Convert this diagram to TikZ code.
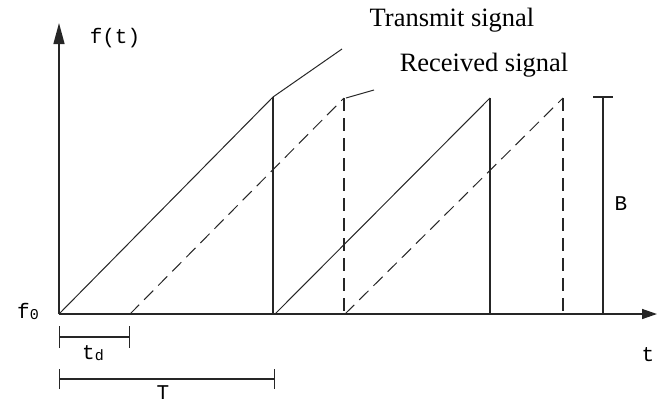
\documentclass[tikz,border=0pt]{standalone}
\usepackage{fontspec}
\setmainfont{Liberation Serif}
\newfontfamily\axisfont{Liberation Mono}
\usepackage{tikz}
\usetikzlibrary{
  arrows.meta,
  positioning,
  calc
}

\begin{document}
\begin{tikzpicture}[
    x=1pt, y=-1pt,
    axis/.style={
      line width=1.4pt,
      color=black!85
    },
    ramp/.style={
      line width=1pt,
      color=black!85
    },
    drop/.style={
      line width=1.4pt,
      color=black!85
    },
    echo/.style={
      line width=1pt,
      color=black!85,
      dash pattern=on 13pt off 7pt
    },
    echodrop/.style={
      line width=1.4pt,
      color=black!85,
      dash pattern=on 13pt off 7pt
    },
    span/.style={
      line width=1.4pt,
      color=black!85
    },
    sym/.style={
      font=\axisfont\fontsize{21}{21}\selectfont,
      text=black,
      inner sep=0pt
    },
    caption/.style={
      font=\fontsize{26.5}{30}\selectfont,
      text=black,
      inner sep=0pt
    }
  ]
    \useasboundingbox (0,0) rectangle (658,405);

    % axes
    \coordinate (o)    at (59, 314);
    \coordinate (ytop) at (59, 23);
    \coordinate (xend) at (657, 314);
    \draw[axis, -{Triangle[length=21pt,width=11pt]}] (o) -- (ytop);
    \draw[axis, -{Triangle[length=15pt,width=10pt]}] (o) -- (xend);

    % transmit ramps
    \coordinate (tx1s) at (59, 314);
    \coordinate (tx1p) at (273, 97);
    \coordinate (tx1b) at (273, 314);
    \coordinate (tx2s) at (275, 314);
    \coordinate (tx2p) at (490, 98);
    \coordinate (tx2b) at (490, 314);
    \draw[ramp] (tx1s) -- (tx1p);
    \draw[drop] (tx1p) -- (tx1b);
    \draw[ramp] (tx2s) -- (tx2p);
    \draw[drop] (tx2p) -- (tx2b);

    % received ramps
    \coordinate (rx1s) at (130, 314);
    \coordinate (rx1p) at (344, 98);
    \coordinate (rx1b) at (344, 314);
    \coordinate (rx2s) at (345, 314);
    \coordinate (rx2p) at (563, 98);
    \coordinate (rx2b) at (563, 314);
    \draw[echo] (rx1s) -- (rx1p);
    \draw[echodrop] (rx1p) -- (rx1b);
    \draw[echo] (rx2s) -- (rx2p);
    \draw[echodrop] (rx2p) -- (rx2b);

    % labels
    \node[caption] (txlabel) at (452, 20) {Transmit signal};
    \node[caption] (rxlabel) at (484, 65) {Received signal};
    \coordinate (txtip) at (342, 49);
    \coordinate (rxtip) at (374, 90);
    \draw[ramp] (tx1p) -- (txtip);
    \draw[ramp] ($(rx1p)+(2,0)$) -- (rxtip);

    \node[sym] (flabel)  at (115, 38) {f(t)};
    \node[sym] (f0label) at (28, 311) {f\raisebox{-1pt}{\fontsize{15}{15}\selectfont 0}};
    \node[sym] (tlabel)  at (648, 355) {t};

    % bandwidth
    \coordinate (btop) at (603, 97);
    \coordinate (bbot) at (603, 314);
    \draw[span] (btop) -- (bbot);
    \draw[span] ($(btop)+(-10,0)$) -- ($(btop)+(10,0)$);
    \node[sym] (blabel) at (621, 204) {B};

    % delay and period
    \coordinate (tdl) at (59, 337);
    \coordinate (tdr) at (130, 337);
    \draw[span, {Bar[width=22pt]}-{Bar[width=22pt]}] (tdl) -- (tdr);
    \node[sym] (tdlabel) at (93, 353) {t\raisebox{-1pt}{\fontsize{15}{15}\selectfont d}};
    \coordinate (tpl) at (59, 379);
    \coordinate (tpr) at (275, 379);
    \draw[span, {Bar[width=20pt]}-{Bar[width=20pt]}] (tpl) -- (tpr);
    \node[sym] (tplabel) at (163, 393) {T};
  \end{tikzpicture}
\end{document}
